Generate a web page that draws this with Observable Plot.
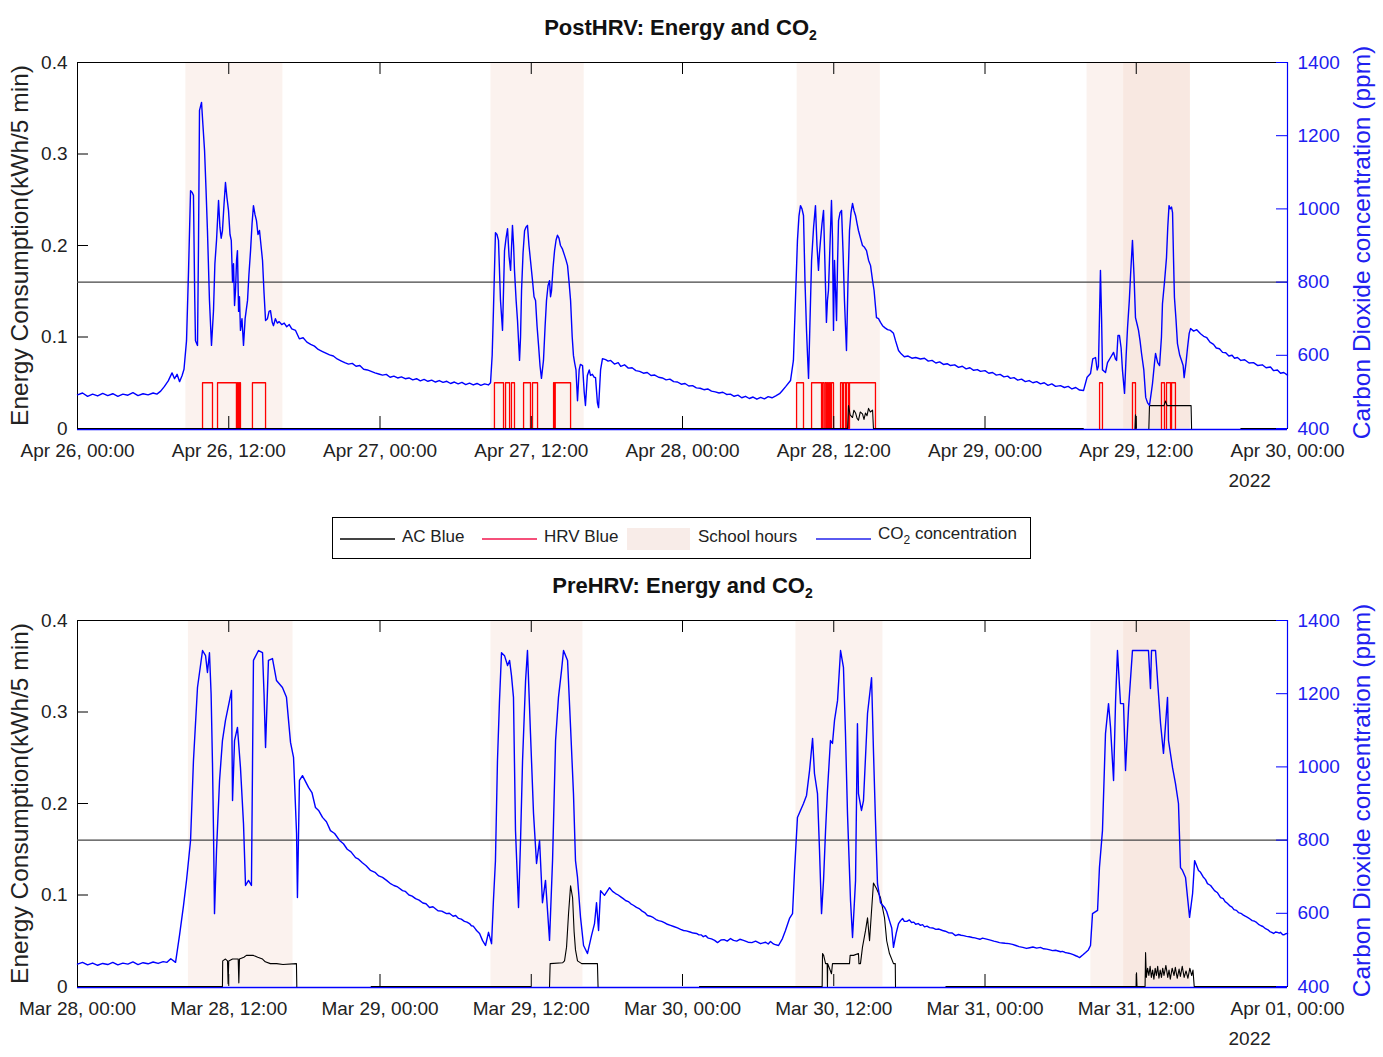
<!DOCTYPE html>
<html><head><meta charset="utf-8">
<script src="https://cdn.jsdelivr.net/npm/d3@7"></script>
<script src="https://cdn.jsdelivr.net/npm/@observablehq/plot@0.6"></script>
<style>
body{margin:0;background:#fff;font-family:"Liberation Sans",Arial,sans-serif;}
#root{position:relative;width:1383px;height:1057px;overflow:hidden;background:#fff;}
.layer{position:absolute;left:0;}
.title{position:absolute;left:-11px;width:1383px;text-align:center;font-weight:bold;font-size:22px;color:#111;line-height:24px;}
.title sub{font-size:14px;vertical-align:-5px;line-height:0;}
#legend{position:absolute;left:332px;top:517px;width:697px;height:40px;border:1px solid #000;background:#fff;font-size:17px;color:#222;}
#legend .ln{position:absolute;top:20px;width:55px;height:0;}
#legend .tx{position:absolute;top:9px;white-space:nowrap;line-height:20px;}
#legend .tx sub{font-size:12px;vertical-align:-5px;line-height:0;}
</style></head><body><div id="root">
<div class="title" style="top:16px;">PostHRV: Energy and CO<sub>2</sub></div>
<div class="title" style="top:574px;left:-9px;">PreHRV: Energy and CO<sub>2</sub></div>
<div id="legend">
  <div class="ln" style="left:7px;border-top:2px solid #444;"></div>
  <div class="tx" style="left:69px;">AC Blue</div>
  <div class="ln" style="left:149px;border-top:2px solid #f5507a;"></div>
  <div class="tx" style="left:211px;">HRV Blue</div>
  <div style="position:absolute;left:294px;top:10px;width:63px;height:22px;background:rgb(248,236,232);"></div>
  <div class="tx" style="left:365px;">School hours</div>
  <div class="ln" style="left:483px;border-top:2px solid #5a5af0;"></div>
  <div class="tx" style="left:545px;top:6px;">CO<sub>2</sub> concentration</div>
</div>
</div>
<script>
// ---------------- data ----------------
const tickHours = [0, 12, 24, 36, 48, 60, 72, 84, 96];
const energyTicks = [0, 0.1, 0.2, 0.3, 0.4];
const co2Ticks = [400, 600, 800, 1000, 1200, 1400];
const threshold = [800];
const yearLabel = ["2022"];
const energyLabel = "Energy Consumption(kWh/5 min)";
const co2Label = "Carbon Dioxide concentration (ppm)";

// PostHRV (start Apr 26 2022 00:00), hours since start
const postStart = [2022, 3, 26];
const postBandStart = [8.6, 32.8, 57.1, 80.1, 83.0];
const postBandEnd = [16.3, 40.2, 63.7, 88.3, 88.3];
const postHrvOn = [9.92, 11.11, 12.69, 12.85, 13.88, 33.08, 33.96, 34.43, 35.39, 36.1, 37.77, 37.9, 57.05, 58.24, 59.11, 59.31, 59.5, 59.66, 59.82, 60.54, 60.77, 61.01, 61.25, 81.09, 83.7, 86.0, 86.4, 86.8];
const postHrvOff = [10.71, 12.61, 12.77, 12.93, 14.92, 33.8, 34.28, 34.67, 35.94, 36.5, 37.85, 39.12, 57.6, 59.03, 59.23, 59.42, 59.58, 59.74, 59.98, 60.69, 60.93, 61.17, 63.31, 81.32, 83.94, 86.24, 86.72, 87.11];
const postAc = [[0,0],[61.1,0],[61.17,0.025],[61.3,0.015],[61.49,0.012],[61.6,0.02],[61.73,0.017],[61.85,0.011],[61.96,0.009],[62.1,0.018],[62.28,0.016],[62.4,0.01],[62.52,0.017],[62.64,0.014],[62.76,0.022],[62.9,0.018],[63.08,0.02],[63.15,0],[79.8,0],[79.81,NaN],[83.9,0],[83.94,0.015],[84.0,0],[84.05,NaN],[85.0,0],[85.05,0.025],[86.2,0.025],[86.32,0.03],[86.45,0.025],[88.35,0.025],[88.39,0],[88.4,NaN],[92.3,0],[96,0]];
const postCo2 = [[0,492],[0.4,497],[0.8,488],[1.2,494],[1.6,489],[2,496],[2.4,490],[2.8,495],[3.2,488],[3.6,494],[4,491],[4.4,498],[4.8,490],[5.2,495],[5.6,492],[6,497],[6.3,494],[6.6,502],[6.9,515],[7.2,530],[7.5,552],[7.7,536],[7.9,548],[8.1,528],[8.3,545],[8.45,562],[8.65,640],
[8.81,832],[8.97,1050],[9.1,1045],[9.2,1037],[9.3,760],[9.36,640],[9.52,627],[9.6,900],[9.68,1269],[9.84,1291],[9.95,1230],[10.08,1160],[10.2,1050],[10.31,941],[10.47,750],[10.63,627],[10.79,722],[10.9,850],[11.03,914],[11.19,1023],[11.3,950],[11.4,920],[11.5,940],[11.62,1010],[11.74,1072],[11.86,1030],[11.98,996],[12.1,930],[12.2,914],[12.3,800],[12.38,850],[12.46,736],[12.54,780],[12.62,860],[12.69,886],[12.78,720],[12.85,760],[12.93,668],[13.05,700],[13.17,627],[13.3,700],[13.49,750],[13.6,820],[13.73,886],[13.85,960],[13.96,1009],[14.08,985],[14.2,968],[14.32,930],[14.44,941],[14.56,900],[14.68,859],[14.8,770],[14.92,695],[15.07,700],[15.2,720],[15.31,722],[15.45,690],[15.55,681],[15.7,700],[15.85,688],[16.0,692],[16.2,684],[16.4,688],[16.6,678],[16.8,684],[17.0,672],[17.3,668],[17.6,645],[17.9,648],[18.2,636],[18.5,630],[18.8,625],[19.1,616],[19.4,611],[19.7,606],[20.0,601],[20.3,598],[20.6,590],[20.9,585],[21.2,580],[21.5,576],[21.8,578],[22.1,570],[22.4,572],[22.7,562],[23.0,560],[23.3,556],[23.6,552],[23.9,549],[24.2,546],[24.5,548],[24.8,540],[25.1,543],[25.4,538],[25.7,541],[26.0,536],[26.3,538],[26.6,533],[26.9,536],[27.2,530],[27.5,534],[27.8,529],[28.1,532],[28.4,527],[28.7,531],[29.0,526],[29.3,529],[29.6,523],[29.9,527],[30.2,522],[30.5,526],[30.8,520],[31.1,524],[31.4,519],[31.7,523],[32.0,518],[32.3,522],[32.6,519],[32.77,525],
[32.9,600],[33.0,722],[33.16,935],[33.28,930],[33.4,914],[33.56,750],[33.72,668],[33.88,886],[34.0,920],[34.12,946],[34.24,870],[34.36,832],[34.51,955],[34.6,900],[34.67,832],[34.8,750],[34.91,695],[35.07,586],[35.15,650],[35.23,777],[35.35,880],[35.47,940],[35.58,950],[35.7,955],[35.82,900],[35.94,859],[36.1,804],[36.22,760],[36.34,750],[36.46,680],[36.58,627],[36.7,570],[36.81,537],[36.97,586],[37.1,680],[37.21,750],[37.33,790],[37.45,804],[37.53,760],[37.61,777],[37.73,840],[37.85,886],[37.97,915],[38.08,928],[38.2,920],[38.32,900],[38.48,890],[38.64,873],[38.76,860],[38.88,845],[39.0,800],[39.12,750],[39.25,650],[39.35,599],[39.45,578],[39.55,560],[39.67,476],[39.8,560],[39.9,575],[40.07,572],[40.2,500],[40.3,463],[40.45,545],[40.6,560],[40.7,545],[40.85,548],[41.0,540],[41.1,539],[41.25,470],[41.34,457],[41.5,560],[41.65,591],[41.9,588],[42.1,584],[42.3,586],[42.6,576],[42.9,580],[43.1,570],[43.4,574],[43.7,565],[44.0,566],[44.3,558],[44.6,556],[44.9,551],[45.2,553],[45.5,545],[45.8,546],[46.1,540],[46.4,538],[46.7,533],[47.0,535],[47.3,528],[47.6,527],[47.9,521],[48.2,523],[48.5,516],[48.8,517],[49.1,511],[49.4,510],[49.7,506],[50.0,508],[50.3,502],[50.6,500],[50.9,497],[51.2,499],[51.5,493],[51.8,494],[52.1,488],[52.4,491],[52.7,484],[53.0,488],[53.3,482],[53.6,486],[53.9,480],[54.2,485],[54.5,481],[54.8,487],[55.1,484],[55.4,489],[55.7,495],[55.93,504],[56.2,515],[56.57,531],[56.8,586],[56.96,750],
[57.12,914],[57.24,980],[57.36,1009],[57.48,1000],[57.6,982],[57.72,800],[57.84,668],[57.92,600],[58.0,537],[58.12,700],[58.24,859],[58.4,950],[58.55,1009],[58.67,900],[58.79,832],[58.87,880],[58.95,914],[59.07,960],[59.19,996],[59.3,850],[59.42,690],[59.5,750],[59.58,777],[59.7,900],[59.82,1023],[59.9,920],[59.98,668],[60.06,859],[60.14,780],[60.22,695],[60.3,850],[60.38,968],[60.5,990],[60.62,996],[60.74,880],[60.85,750],[60.93,680],[61.01,613],[61.13,800],[61.25,941],[61.37,990],[61.49,1015],[61.61,995],[61.73,982],[61.85,960],[61.96,941],[62.12,920],[62.28,900],[62.44,895],[62.6,886],[62.76,860],[62.92,845],[63.08,804],[63.2,777],[63.39,703],[63.55,700],[63.71,690],[63.87,681],[64.07,675],[64.27,670],[64.5,668],[64.74,660],[64.9,640],[65.14,613],[65.35,604],[65.6,596],[65.9,598],[66.2,592],[66.5,594],[66.88,590],[67.2,592],[67.5,584],[67.8,586],[68.1,579],[68.4,582],[68.7,575],[69.0,577],[69.26,572],[69.6,574],[69.9,567],[70.2,570],[70.5,563],[70.8,566],[71.1,559],[71.4,561],[71.64,556],[72.0,558],[72.3,551],[72.6,553],[72.9,546],[73.2,548],[73.5,541],[73.8,543],[74.02,537],[74.3,539],[74.6,532],[74.9,535],[75.2,528],[75.5,531],[75.8,525],[76.1,528],[76.4,522],[76.7,525],[77.0,518],[77.3,522],[77.6,515],[77.99,517],[78.3,512],[78.6,515],[78.9,508],[79.2,512],[79.5,505],[79.82,504],
[80.1,540],[80.37,550],[80.55,590],[80.77,594],[80.9,560],[81.0,570],[81.08,700],[81.16,832],[81.25,700],[81.32,560],[81.4,558],[81.56,553],[81.72,580],[81.96,594],[82.2,608],[82.35,590],[82.44,586],[82.55,654],[82.67,654],[82.8,620],[82.91,558],[83.07,496],[83.2,600],[83.31,676],[83.45,750],[83.55,820],[83.7,914],[83.82,820],[83.94,703],[84.1,680],[84.18,668],[84.3,640],[84.42,605],[84.6,560],[84.75,485],[84.9,470],[85.05,463],[85.2,500],[85.29,523],[85.45,580],[85.53,605],[85.7,580],[85.85,572],[86.0,650],[86.08,741],[86.24,800],[86.4,867],[86.5,950],[86.6,1009],[86.7,1000],[86.8,1005],[86.88,990],[86.96,860],[87.03,758],[87.15,700],[87.27,632],[87.45,600],[87.6,585],[87.72,572],[87.8,539],[87.95,580],[88.07,621],[88.2,660],[88.31,673],[88.55,666],[88.8,670],[89.1,659],[89.35,652],[89.6,648],[89.85,636],[90.13,630],[90.35,620],[90.6,618],[90.85,608],[91.1,607],[91.35,598],[91.6,600],[91.8,592],[92.03,594],[92.3,586],[92.6,588],[92.95,579],[93.3,580],[93.65,572],[94.0,574],[94.3,566],[94.65,568],[94.9,558],[95.2,560],[95.45,551],[95.7,553],[96,546]];

// PreHRV (start Mar 28 2022 00:00)
const preStart = [2022, 2, 28];
const preBandStart = [8.8, 32.8, 57.0, 80.4, 83.0];
const preBandEnd = [17.1, 40.1, 63.9, 88.3, 88.3];
const preHrvOn = [];
const preHrvOff = [];
const preAc = [[0,0],[11.5,0],[11.52,0.028],[11.74,0.03],[11.9,0.028],[11.95,0.003],[12.0,0.028],[12.3,0.03],[12.75,0.03],[12.8,0.004],[12.85,0.03],[13.2,0.032],[13.4,0.034],[13.96,0.034],[14.3,0.032],[14.68,0.03],[14.9,0.027],[15.3,0.025],[15.8,0.025],[16.3,0.024],[17.37,0.025],[17.4,0],[17.45,NaN],[23.3,0],[36.0,0],[36.05,NaN],[37.45,0],[37.5,0.025],[38.5,0.026],[38.64,0.028],[38.8,0.043],[38.96,0.08],[39.12,0.11],[39.28,0.097],[39.4,0.06],[39.51,0.04],[39.67,0.028],[40.0,0.025],[41.25,0.025],[41.3,0],[41.35,NaN],[49.35,0],[59.08,0],[59.11,0.036],[59.2,0.034],[59.35,0.025],[59.48,0.025],[59.5,0],[59.52,0.025],[59.82,0.014],[59.9,0.025],[61.25,0.025],[61.3,0.034],[61.57,0.034],[61.96,0.036],[62.0,0.025],[62.12,0.025],[62.28,0.043],[62.52,0.061],[62.68,0.075],[62.84,0.05],[63.0,0.083],[63.15,0.113],[63.39,0.107],[63.71,0.097],[64.03,0.075],[64.2,0.05],[64.42,0.036],[64.74,0.025],[64.88,0.025],[64.9,0],[65.0,NaN],[68.9,0],[84.0,0],[84.02,0.015],[84.06,0],[84.7,0],[84.74,0.037],[84.8,0.01],[84.9,0.02],[85.0,0.012],[85.1,0.022],[85.2,0.01],[85.3,0.018],[85.4,0.008],[85.5,0.02],[85.6,0.012],[85.7,0.022],[85.8,0.009],[85.9,0.018],[86.0,0.01],[86.1,0.02],[86.2,0.012],[86.35,0.023],[86.5,0.01],[86.6,0.018],[86.7,0.008],[86.85,0.02],[87.0,0.012],[87.1,0.021],[87.25,0.009],[87.4,0.019],[87.5,0.011],[87.65,0.022],[87.8,0.01],[87.95,0.017],[88.1,0.009],[88.25,0.02],[88.4,0.012],[88.5,0.018],[88.6,0],[96,0]];
const preCo2 = [[0,461],[0.4,466],[0.8,459],[1.2,464],[1.6,458],[2,463],[2.4,460],[2.8,466],[3.2,459],[3.6,464],[4,461],[4.4,467],[4.8,460],[5.2,465],[5.6,462],[6,467],[6.4,463],[6.8,468],[7.1,466],[7.4,476],[7.78,466],[8.09,539],[8.41,621],[8.65,690],[8.97,799],[9.2,1017],[9.52,1217],[9.92,1318],[10.16,1304],[10.31,1258],[10.47,1312],[10.6,1200],[10.71,1009],[10.79,826],[10.87,599],[11.03,772],[11.27,963],[11.5,1072],[11.74,1127],[12.06,1181],[12.22,1209],[12.3,908],[12.46,1072],[12.69,1108],[12.93,998],[13.17,845],[13.33,676],[13.57,690],[13.8,676],[13.96,1291],[14.36,1318],[14.68,1312],[14.8,1200],[14.92,1053],[15.15,1291],[15.47,1296],[15.79,1236],[16.26,1217],[16.58,1190],[16.9,1067],[17.14,1026],[17.38,818],[17.45,643],[17.61,963],[17.85,976],[18.33,944],[18.6,930],[18.88,889],[19.15,880],[19.44,862],[19.75,850],[20.07,826],[20.4,818],[20.79,799],[21.1,790],[21.4,775],[21.7,768],[22.06,752],[22.3,748],[22.6,738],[22.9,730],[23.25,717],[23.6,712],[23.9,702],[24.2,698],[24.52,690],[24.8,682],[25.1,676],[25.4,672],[25.79,662],[26.0,660],[26.3,650],[26.55,647],[26.82,640],[27.1,636],[27.4,628],[27.65,626],[27.93,616],[28.2,618],[28.6,607],[28.9,606],[29.28,599],[29.5,600],[29.8,592],[30.0,594],[30.23,586],[30.45,584],[30.7,578],[30.9,576],[31.1,572],[31.25,566],[31.4,565],[31.55,558],[31.66,553],[31.9,545],[32.13,526],[32.37,512],[32.61,548],[32.85,517],
[33.0,635],[33.16,744],[33.32,1017],[33.48,1181],[33.64,1312],[33.88,1304],[34.12,1277],[34.28,1291],[34.43,1250],[34.59,1190],[34.75,826],[34.99,616],[35.15,799],[35.31,1017],[35.55,1236],[35.7,1318],[35.94,1091],[36.18,873],[36.42,736],[36.66,799],[36.89,629],[37.13,690],[37.45,526],[37.69,744],[37.93,1072],[38.16,1190],[38.4,1263],[38.56,1318],[38.88,1291],[39.12,1108],[39.35,927],[39.51,744],[39.67,698],[39.91,589],[40.15,512],[40.46,490],[40.78,539],[41.02,572],[41.18,629],[41.34,553],[41.5,662],[41.81,649],[42.21,670],[42.45,660],[42.69,654],[42.9,650],[43.1,645],[43.3,640],[43.48,635],[43.7,632],[43.9,626],[44.1,622],[44.35,616],[44.6,612],[44.8,606],[45.0,602],[45.22,594],[45.45,592],[45.7,588],[45.9,583],[46.1,580],[46.35,578],[46.6,574],[46.8,570],[47.05,567],[47.3,564],[47.6,560],[47.85,556],[48.08,553],[48.3,552],[48.6,549],[48.85,546],[49.11,545],[49.3,541],[49.5,541],[49.65,536],[49.83,539],[50.05,532],[50.3,530],[50.55,526],[50.78,520],[51.05,527],[51.3,528],[51.55,524],[51.81,531],[52.05,526],[52.3,524],[52.55,529],[52.84,526],[53.2,521],[53.5,520],[53.8,524],[54.19,517],[54.4,519],[54.6,521],[54.8,516],[54.98,523],[55.15,518],[55.3,515],[55.62,512],
[55.93,531],[56.17,553],[56.49,586],[56.73,599],[56.89,717],[57.12,862],[57.36,881],[57.6,900],[57.84,922],[58.08,990],[58.32,1078],[58.47,982],[58.71,927],[58.87,772],[59.03,599],[59.19,690],[59.35,826],[59.5,935],[59.74,1072],[59.9,1064],[60.06,1127],[60.3,1181],[60.54,1318],[60.77,1272],[60.93,1091],[61.09,873],[61.33,635],[61.49,534],[61.73,690],[61.88,1118],[61.96,927],[62.2,881],[62.36,908],[62.68,1146],[63.0,1244],[63.15,1045],[63.31,854],[63.47,681],[63.71,629],[64.03,616],[64.2,605],[64.42,580],[64.6,560],[64.74,507],[64.95,545],[65.14,572],[65.3,580],[65.46,586],[65.6,578],[65.8,578],[66.0,582],[66.17,575],[66.35,576],[66.5,570],[66.7,572],[66.88,567],[67.05,569],[67.2,563],[67.4,565],[67.6,561],[67.85,560],[68.1,556],[68.35,557],[68.63,553],[68.85,551],[69.1,547],[69.4,546],[69.66,539],[69.9,542],[70.1,540],[70.3,539],[70.53,537],[70.75,536],[71.0,534],[71.2,533],[71.41,531],[71.6,529],[71.8,532],[72.05,530],[72.28,528],[72.5,526],[72.7,524],[72.95,522],[73.15,520],[73.4,519],[73.6,518],[73.9,517],[74.18,515],[74.45,512],[74.7,509],[75.0,507],[75.29,504],[75.55,506],[75.8,508],[76.1,505],[76.4,507],[76.65,503],[76.9,502],[77.15,500],[77.36,498],[77.6,499],[77.8,497],[78.0,495],[78.15,496],[78.35,493],[78.5,492],[78.65,491],[78.78,490],[79.0,487],[79.2,484],[79.35,482],[79.5,479],[79.75,486],[79.98,493],[80.2,500],[80.37,512],
[80.53,599],[80.93,608],[81.08,725],[81.32,826],[81.56,1091],[81.8,1173],[81.96,1108],[82.2,963],[82.36,1181],[82.51,1318],[82.75,1173],[82.99,1173],[83.15,990],[83.39,1162],[83.7,1318],[84.34,1318],[84.97,1318],[85.13,1214],[85.21,1318],[85.53,1318],[85.69,1236],[85.93,1118],[86.16,1037],[86.48,1190],[86.56,1072],[86.88,998],[87.11,955],[87.35,900],[87.51,725],[87.67,717],[87.91,698],[88.07,643],[88.23,589],[88.47,654],[88.63,744],[88.94,717],[89.1,712],[89.3,700],[89.5,692],[89.65,681],[89.9,676],[90.21,662],[90.45,656],[90.69,643],[90.9,640],[91.05,632],[91.2,628],[91.4,621],[91.6,617],[91.75,610],[91.95,608],[92.11,602],[92.3,600],[92.5,595],[92.65,592],[92.83,589],[93.0,585],[93.2,580],[93.35,579],[93.54,575],[93.7,570],[93.9,566],[94.05,564],[94.26,558],[94.45,555],[94.6,550],[94.75,548],[94.9,545],[95.05,549],[95.2,548],[95.35,546],[95.45,548],[95.6,542],[95.7,541],[95.85,544],[96,545]];

// ---------------- drawing ----------------
const FONT = '"Liberation Sans", Arial, Helvetica, sans-serif';
const W = 1383, ML = 77, MR = 96, PLOT_H = 366, PLOT_W = W - ML - MR;
const BLUE = "#0000ff", RED = "#ff0000";
const root = document.getElementById("root");

function drawPanel(cfg) {
  const t0 = new Date(cfg.start[0], cfg.start[1], cfg.start[2]).getTime();
  const T = h => new Date(t0 + h * 3600000);
  const xDomain = [T(0), T(96)];
  const xTicks = tickHours.map(T);
  const common = {
    width: W, height: cfg.height,
    marginLeft: ML, marginRight: MR, marginTop: cfg.mt,
    marginBottom: cfg.height - cfg.mt - PLOT_H,
    style: {background: "transparent", fontFamily: FONT, overflow: "visible"}
  };
  const bands = cfg.bandStart.map((s, i) => ({x1: T(s), x2: T(cfg.bandEnd[i])}));
  const hrv = [];
  cfg.hrvOn.forEach((on, i) => {
    const off = cfg.hrvOff[i];
    hrv.push({p: i, t: T(on), v: 0}, {p: i, t: T(on), v: 0.05}, {p: i, t: T(off), v: 0.05}, {p: i, t: T(off), v: 0});
  });
  const ac = cfg.ac.map(([h, v]) => ({t: T(h), v}));
  const co2 = cfg.co2.map(([h, v]) => ({t: T(h), v}));

  const energy = Plot.plot({
    ...common,
    x: {type: "time", domain: xDomain},
    y: {domain: [0, 0.4]},
    marks: [
      Plot.rect(bands, {x1: "x1", x2: "x2", y1: 0, y2: 0.4, fill: "rgb(240,205,190)", fillOpacity: 0.26}),
      Plot.ruleY([0], {stroke: BLUE, strokeWidth: 1.6, dy: 1}),
      Plot.line(hrv, {x: "t", y: "v", z: "p", stroke: RED, strokeWidth: 1.3}),
      Plot.line(ac, {x: "t", y: "v", stroke: "#000", strokeWidth: 1.1}),
      Plot.ruleY([0.4], {stroke: "#000", strokeWidth: 1}),
      Plot.ruleX([T(0)], {stroke: "#000", strokeWidth: 1}),
      Plot.tickX(xTicks, {x: d => d, insetTop: PLOT_H - 12, stroke: "#000"}),
      Plot.tickX(xTicks, {x: d => d, insetBottom: PLOT_H - 12, stroke: "#000"}),
      Plot.tickY(energyTicks, {y: d => d, insetRight: PLOT_W - 11, stroke: "#000"}),
      Plot.axisX({ticks: xTicks, tickSize: 0, tickPadding: 15, fontSize: 19, fill: "#222", label: null,
        tickFormat: d3.timeFormat("%b %d, %H:%M")}),
      Plot.axisY({ticks: energyTicks, tickSize: 0, tickPadding: 10, fontSize: 19, fill: "#222", label: null,
        tickFormat: d => String(d)}),
      Plot.text([energyLabel], {text: d => d, frameAnchor: "left", textAnchor: "middle", lineAnchor: "middle",
        dx: -57, rotate: -90, fontSize: 24.5, fill: "#222"}),
      Plot.text(yearLabel, {text: d => d, x: () => T(96), frameAnchor: "bottom", dy: 58, dx: -59, textAnchor: "start", fontSize: 19, fill: "#222"})
    ]
  });
  const co2Plot = Plot.plot({
    ...common,
    x: {type: "time", domain: xDomain, axis: null},
    y: {domain: [400, 1400]},
    marks: [
      Plot.ruleY(threshold, {stroke: "#444", strokeWidth: 1.1}),
      Plot.line(co2, {x: "t", y: "v", stroke: BLUE, strokeWidth: 1.4}),
      Plot.ruleX([T(96)], {stroke: BLUE, strokeWidth: 1.2}),
      Plot.tickY(co2Ticks, {y: d => d, insetLeft: PLOT_W - 11, stroke: BLUE}),
      Plot.axisY({ticks: co2Ticks, anchor: "right", tickSize: 0, tickPadding: 10, fontSize: 19, fill: "#2020f0",
        label: null, tickFormat: d => String(d)}),
      Plot.text([co2Label], {text: d => d, frameAnchor: "right", textAnchor: "middle", lineAnchor: "middle",
        dx: 75, dy: -3, rotate: -90, fontSize: 24.5, fill: "#2020f0"})
    ]
  });
  for (const svg of [energy, co2Plot]) {
    svg.classList.add("layer");
    svg.style.top = cfg.top + "px";
    svg.style.position = "absolute";
    root.appendChild(svg);
  }
}

drawPanel({start: postStart, top: 0, height: 500, mt: 62, bandStart: postBandStart, bandEnd: postBandEnd,
  hrvOn: postHrvOn, hrvOff: postHrvOff, ac: postAc, co2: postCo2});
drawPanel({start: preStart, top: 560, height: 497, mt: 60, bandStart: preBandStart, bandEnd: preBandEnd,
  hrvOn: preHrvOn, hrvOff: preHrvOff, ac: preAc, co2: preCo2});
root.appendChild(document.getElementById("legend"));
document.querySelectorAll(".title").forEach(t => root.appendChild(t));
</script></body></html>
